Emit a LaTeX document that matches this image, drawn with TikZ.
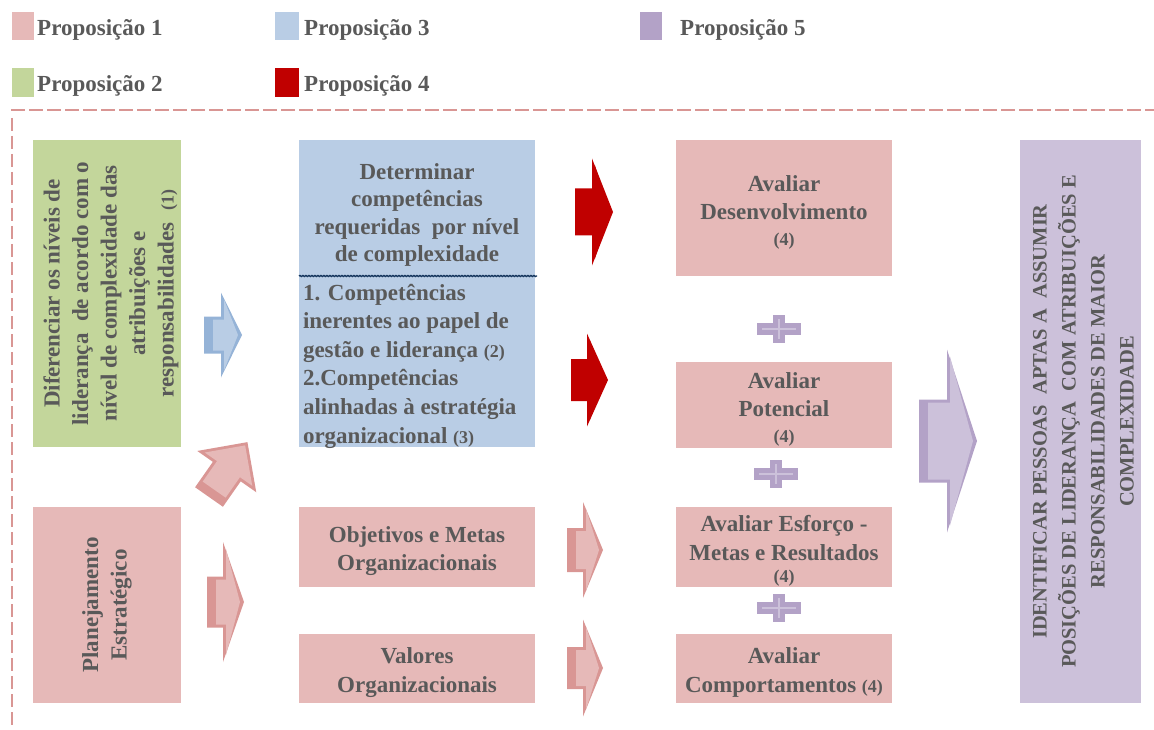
\documentclass[tikz,border=0pt]{standalone}
\usepackage{fontspec}
\setmainfont{Liberation Serif}
\usetikzlibrary{decorations.pathmorphing}

\definecolor{pinkfill}{RGB}{230,185,184}
\definecolor{pinkdark}{RGB}{217,150,148}
\definecolor{bluefill}{RGB}{185,205,229}
\definecolor{bluedark}{RGB}{149,179,215}
\definecolor{greenfill}{RGB}{195,214,155}
\definecolor{purplefill}{RGB}{204,193,218}
\definecolor{purpledark}{RGB}{179,162,199}
\definecolor{redfill}{RGB}{192,0,0}
\definecolor{textgray}{RGB}{89,89,89}
\definecolor{navyline}{RGB}{23,55,94}

% small reference numbers after a statement
\newcommand\pnum[1]{{\fontsize{18}{18}\selectfont #1}}

% two-tone block arrow pointing right:
% #1 dark, #2 light, #3 tail x, #4 head base x, #5 tip x, #6 centre y, #7 body half height, #8 head half height
\newcommand\flowarrow[8]{%
  \fill[#1] (#3,#6-#7) -- (#4,#6-#7) -- (#4,#6-#8) -- (#5,#6) -- (#4,#6+#8)
            -- (#4,#6+#7) -- (#3,#6+#7) -- cycle;
  \fill[#2] (#3+9,#6-#7+3) -- (#4+3,#6-#7+3) -- (#4+3,#6-#8+7) -- (#5-4,#6)
            -- (#4+3,#6+#8-7) -- (#4+3,#6+#7-3) -- (#3+9,#6+#7-3) -- cycle;
}

% plus sign between the assessments
\newcommand\plussign[2]{%
  \fill[purpledark] (#1-22,#2-6) rectangle (#1+22,#2+6);
  \fill[purpledark] (#1-6,#2-14) rectangle (#1+6,#2+14);
  \draw[purplefill, line width=1.3pt] (#1-17,#2) -- (#1+17,#2) (#1,#2-10) -- (#1,#2+10);
}

% filled panel with its centred caption:
% #1 name, #2 left x, #3 top y, #4 width, #5 height, #6 colour, #7 text
\newcommand\panelbox[7]{%
  \node[panel, fill=#6, minimum width=#4pt, minimum height=#5pt] (#1) at (#2,#3) {};
  \node[txt] (#1-t) at ([yshift=-4pt]#1.center) {#7};
}

\begin{document}
\begin{tikzpicture}[x=1pt,y=-1pt,
  txt/.style={text=textgray, font=\bfseries\fontsize{23}{28.5}\selectfont,
              align=center, inner sep=0pt, outer sep=0pt},
  panel/.style={inner sep=0pt, outer sep=0pt, anchor=north west},
  vpanel/.style={inner sep=0pt, outer sep=0pt, rotate=90},
  legsq/.style={anchor=north west, inner sep=0pt, outer sep=0pt,
                minimum width=22pt, minimum height=28pt},
  legtxt/.style={text=textgray, font=\bfseries\fontsize{23}{26}\selectfont,
                 anchor=base west, inner sep=0pt},
  border/.style={pinkdark, line width=2.8pt, dash pattern=on 14pt off 4pt},
  borderv/.style={pinkdark, line width=2.4pt, dash pattern=on 13pt off 5pt},
]
\useasboundingbox (0,0) rectangle (1154,730);

% legend
\node[legsq, fill=pinkfill] (k1) at (11.5,12) {};
\node[legtxt] (t1) at (37,36) {Proposição 1};
\node[legsq, fill=bluefill, minimum width=24pt] (k3) at (275,12) {};
\node[legtxt] (t3) at (304,36) {Proposição 3};
\node[legsq, fill=purpledark] (k5) at (640,12) {};
\node[legtxt] (t5) at (680,36) {Proposição 5};
\node[legsq, fill=greenfill, minimum height=29pt] (k2) at (11.5,68) {};
\node[legtxt] (t2) at (37,92) {Proposição 2};
\node[legsq, fill=redfill, minimum width=24pt, minimum height=29pt] (k4) at (275,68) {};
\node[legtxt] (t4) at (304,92) {Proposição 4};

% dashed frame
\draw[border] (11,110) -- (1160,110);
\draw[borderv] (12,118) -- (12,735);

% first column
\node[vpanel, fill=greenfill, minimum width=307pt, minimum height=148pt] (dif) at (107,293.5) {};
\node[txt, rotate=90] (dif-t) at ([xshift=4pt]dif.center)
  {Diferenciar os níveis de\\liderança\ \ de acordo com o\\nível de complexidade das\\atribuições e\\responsabilidades\ \ \pnum{(1)}};
\node[vpanel, fill=pinkfill, minimum width=196pt, minimum height=148pt] (plan) at (107,605) {};
\node[txt, rotate=90] (plan-t) at (plan.center) {Planejamento\\Estratégico};

% second column
\node[panel, fill=bluefill, minimum width=236pt, minimum height=307pt] (comp) at (299,140) {};
\draw[navyline, line width=1.4pt, decorate,
      decoration={snake, amplitude=0.5pt, segment length=3pt}] (299,276) -- (537,276);
\node[txt, font=\bfseries\fontsize{23}{27.5}\selectfont] (req) at (417,215)
  {Determinar\\competências\\requeridas\ \ por nível\\de complexidade};
\node[txt, align=left, anchor=west, font=\bfseries\fontsize{23}{28.6}\selectfont] (lista) at (303,366)
  {1. Competências\\inerentes ao papel de\\gestão e liderança \pnum{(2)}\\2.Competências\\alinhadas à estratégia\\organizacional \pnum{(3)}};
\panelbox{obj}{299}{507}{236}{80}{pinkfill}{Objetivos e Metas\\Organizacionais}
\panelbox{val}{299}{634}{236}{69}{pinkfill}{Valores\\Organizacionais}

% third column
\panelbox{dev}{676}{140}{216}{136}{pinkfill}{Avaliar\\Desenvolvimento\\[-3pt]\pnum{(4)}}
\panelbox{pot}{676}{362}{216}{86}{pinkfill}{Avaliar\\Potencial\\[-3pt]\pnum{(4)}}
\panelbox{esf}{676}{507}{216}{80}{pinkfill}{Avaliar Esforço -\\Metas e Resultados\\[-6pt]\pnum{(4)}}
\panelbox{cpt}{676}{634}{216}{69}{pinkfill}{Avaliar\\Comportamentos \pnum{(4)}}

\plussign{779}{329}
\plussign{776}{474}
\plussign{779}{608}

% outcome
\node[vpanel, fill=purplefill, minimum width=563pt, minimum height=121pt] (goal) at (1080.5,421.5) {};
\node[txt, rotate=90, font=\bfseries\fontsize{20.5}{29}\selectfont] (goal-t) at ([xshift=3pt]goal.center)
  {IDENTIFICAR PESSOAS\ \ APTAS A\ \ ASSUMIR\\POSIÇÕES DE LIDERANÇA\ \ COM ATRIBUIÇÕES E\\RESPONSABILIDADES DE MAIOR\\COMPLEXIDADE};

% block arrows
\flowarrow{bluedark}{bluefill}{204}{221}{242}{335}{18.5}{42.5}
\flowarrow{pinkdark}{pinkfill}{207}{223}{244}{602}{25.5}{60}
\begin{scope}[shift={(209,497)}, rotate=55]
  \flowarrow{pinkdark}{pinkfill}{0}{31}{67}{0}{17}{36}
\end{scope}
\flowarrow{redfill}{redfill}{575}{592}{613}{212}{23.5}{53.5}
\flowarrow{redfill}{redfill}{571}{587}{608}{380}{21}{46.5}
\flowarrow{pinkdark}{pinkfill}{567}{583}{603}{550}{22}{48}
\flowarrow{pinkdark}{pinkfill}{567}{583}{603}{668}{21}{48.5}
\flowarrow{purpledark}{purplefill}{919}{947}{977}{441}{41.5}{91.5}

\end{tikzpicture}
\end{document}
